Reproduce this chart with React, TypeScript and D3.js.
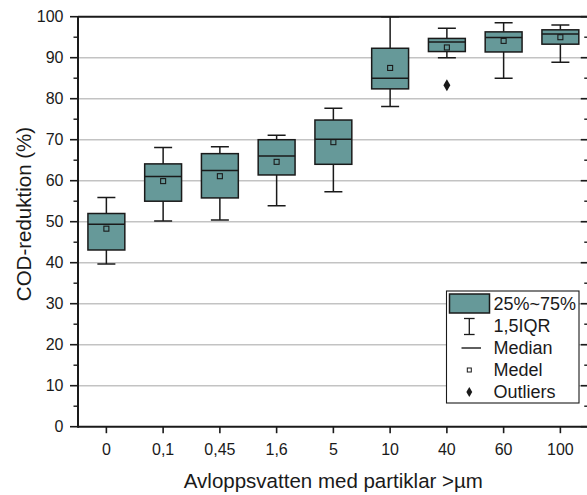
import React from "react";
import * as d3 from "d3";

// Particle size fractions (µm) and COD reduction statistics (%)
const categories = ["0", "0,1", "0,45", "1,6", "5", "10", "40", "60", "100"];
const whiskerLow = [39.7, 50.2, 50.4, 53.9, 57.3, 78.1, 90.0, 85.0, 88.9];
const q1 = [43.1, 55.0, 55.8, 61.4, 64.0, 82.4, 91.5, 91.4, 93.3];
const median = [49.4, 61.0, 62.5, 66.0, 70.1, 85.0, 93.8, 94.9, 95.8];
const q3 = [52.0, 64.1, 66.6, 70.0, 74.8, 92.3, 94.7, 96.3, 96.8];
const whiskerHigh = [55.9, 68.1, 68.3, 71.1, 77.7, 100, 97.2, 98.5, 98.0];
const mean = [48.3, 59.9, 61.1, 64.6, 69.4, 87.5, 92.5, 94.1, 95.0];
const outlierCats = ["40"];
const outlierValues = [83.3];

const yMajorTicks = [0, 10, 20, 30, 40, 50, 60, 70, 80, 90, 100];
const yMinorTicks = [5, 15, 25, 35, 45, 55, 65, 75, 85, 95];
const legendLabels = ["25%~75%", "1,5IQR", "Median", "Medel", "Outliers"];

const W = 587;
const H = 495;
const left = 78;
const right = 588.75;
const top = 16.7;
const bottom = 426.7;

const FILL = "#669999";
const INK = "#1a1a1a";
const GRID = "#c3c3c3";
const FONT = "'Liberation Sans', Arial, Helvetica, sans-serif";

export default function App() {
  const x = d3.scaleBand<string>().domain(categories).range([left, right]).padding(0);
  const y = d3.scaleLinear().domain([0, 100]).range([bottom, top]);
  const bw = x.bandwidth();
  const boxW = bw * 0.65;
  const capW = 18;
  const cx = (c: string) => (x(c) as number) + bw / 2;

  const diamond = d3.symbol().type(d3.symbolDiamond).size(42)();
  const legendDiamond = d3.symbol().type(d3.symbolDiamond).size(30)();

  const lx = 446.5;
  const ly = 291;
  const rowY = (i: number) => 304 + i * 22;

  return (
    <svg
      width={W}
      height={H}
      style={{ position: "absolute", left: 0, top: 0, background: "#fff" }}
      fontFamily={FONT}
    >
      <defs>
        <clipPath id="plotClip">
          <rect x={left} y={top - 1} width={right - left} height={bottom - top + 1} />
        </clipPath>
      </defs>

      {/* horizontal grid */}
      {yMajorTicks
        .filter((t) => t > 0 && t < 100)
        .map((t) => (
          <line key={"g" + t} x1={left} x2={right} y1={y(t)} y2={y(t)} stroke={GRID} strokeWidth={1.6} />
        ))}

      {/* boxes */}
      <g clipPath="url(#plotClip)">
        {categories.map((c, i) => {
          const xc = cx(c);
          return (
            <g key={c}>
              <line x1={xc} x2={xc} y1={y(q3[i])} y2={y(whiskerHigh[i])} stroke={INK} strokeWidth={1.5} />
              <line x1={xc} x2={xc} y1={y(q1[i])} y2={y(whiskerLow[i])} stroke={INK} strokeWidth={1.5} />
              <line x1={xc - capW / 2} x2={xc + capW / 2} y1={y(whiskerHigh[i])} y2={y(whiskerHigh[i])} stroke={INK} strokeWidth={1.5} />
              <line x1={xc - capW / 2} x2={xc + capW / 2} y1={y(whiskerLow[i])} y2={y(whiskerLow[i])} stroke={INK} strokeWidth={1.5} />
              <rect
                x={xc - boxW / 2}
                y={y(q3[i])}
                width={boxW}
                height={y(q1[i]) - y(q3[i])}
                fill={FILL}
                stroke={INK}
                strokeWidth={1.5}
              />
              <line x1={xc - boxW / 2} x2={xc + boxW / 2} y1={y(median[i])} y2={y(median[i])} stroke={INK} strokeWidth={1.5} />
              <rect x={xc - 2.5} y={y(mean[i]) - 2.5} width={5} height={5} fill="none" stroke={INK} strokeWidth={1.1} />
            </g>
          );
        })}
        {outlierCats.map((c, i) => (
          <path key={"o" + i} d={diamond as string} transform={`translate(${cx(c)},${y(outlierValues[i])})`} fill={INK} />
        ))}
      </g>

      {/* frame */}
      <line x1={left} x2={right} y1={top} y2={top} stroke={INK} strokeWidth={2} />
      <line x1={left} x2={right} y1={bottom} y2={bottom} stroke={INK} strokeWidth={2} />
      <line x1={left} x2={left} y1={top} y2={bottom + 1} stroke={INK} strokeWidth={2} />
      <line x1={right} x2={right} y1={top} y2={bottom} stroke={INK} strokeWidth={2} />

      {/* left axis ticks and labels */}
      {yMajorTicks.map((t) => (
        <g key={"yl" + t}>
          <line x1={left - 8} x2={left} y1={y(t)} y2={y(t)} stroke={INK} strokeWidth={1.6} />
          <line x1={right - 8} x2={right} y1={y(t)} y2={y(t)} stroke={INK} strokeWidth={1.6} />
          <text x={left - 14.5} y={y(t)} dy="0.36em" textAnchor="end" fontSize={16} fill={INK}>
            {t}
          </text>
        </g>
      ))}
      {yMinorTicks.map((t) => (
        <g key={"ym" + t}>
          <line x1={left - 4.5} x2={left} y1={y(t)} y2={y(t)} stroke={INK} strokeWidth={1.4} />
          <line x1={right - 4.5} x2={right} y1={y(t)} y2={y(t)} stroke={INK} strokeWidth={1.4} />
        </g>
      ))}

      {/* bottom axis ticks and labels */}
      {categories.map((c) => (
        <g key={"xt" + c}>
          <line x1={cx(c)} x2={cx(c)} y1={bottom} y2={bottom + 6.5} stroke={INK} strokeWidth={1.6} />
          <text x={cx(c)} y={455} textAnchor="middle" fontSize={16} fill={INK}>
            {c}
          </text>
        </g>
      ))}

      {/* axis titles */}
      <text x={(left + right) / 2} y={488} textAnchor="middle" fontSize={20.5} fill={INK}>
        Avloppsvatten med partiklar &gt;µm
      </text>
      <text
        transform={`translate(31,214) rotate(-90)`}
        textAnchor="middle"
        fontSize={20.5}
        fill={INK}
      >
        COD-reduktion (%)
      </text>

      {/* legend */}
      <g>
        <rect x={lx} y={ly} width={132.5} height={112} fill="#fff" stroke={INK} strokeWidth={1.1} />
        <rect x={449.5} y={294} width={40} height={19} fill={FILL} stroke={INK} strokeWidth={1.5} />
        <line x1={469.3} x2={469.3} y1={318.5} y2={334.5} stroke={INK} strokeWidth={1.3} />
        <line x1={464} x2={474.6} y1={318.5} y2={318.5} stroke={INK} strokeWidth={1.3} />
        <line x1={464} x2={474.6} y1={334.5} y2={334.5} stroke={INK} strokeWidth={1.3} />
        <line x1={461.5} x2={481} y1={rowY(2)} y2={rowY(2)} stroke={INK} strokeWidth={1.4} />
        <rect x={467.3} y={rowY(3) - 2} width={4} height={4} fill="#fff" stroke={INK} strokeWidth={1} />
        <path d={legendDiamond as string} transform={`translate(469.3,${rowY(4)})`} fill={INK} />
        {legendLabels.map((l, i) => (
          <text key={l} x={493.5} y={rowY(i)} dy="0.36em" fontSize={18} fill={INK}>
            {l}
          </text>
        ))}
      </g>
    </svg>
  );
}
